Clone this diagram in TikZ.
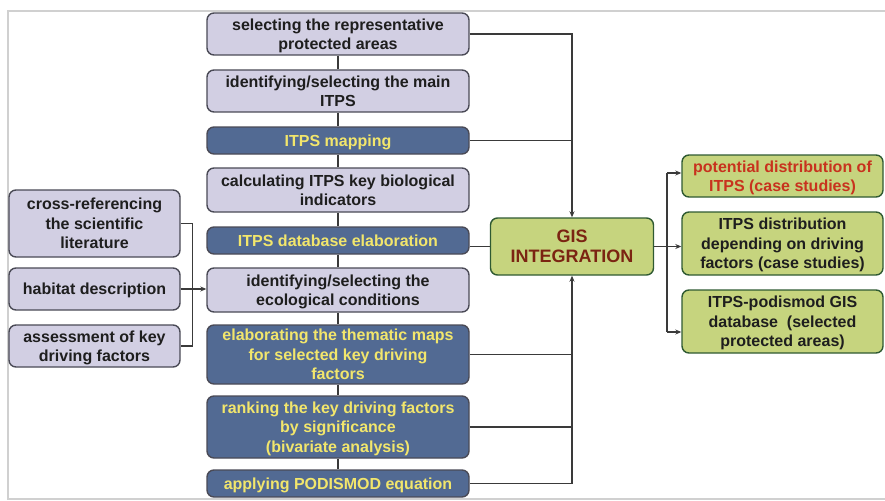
\documentclass[tikz,border=0pt]{standalone}
\usepackage{fontspec}
\setmainfont{Liberation Sans}
\usetikzlibrary{arrows.meta}

\definecolor{lavfill}{HTML}{D2CFE3}
\definecolor{boxline}{HTML}{4A4A56}
\definecolor{darkfill}{HTML}{526A93}
\definecolor{yellowtxt}{HTML}{F2E66C}
\definecolor{greenfill}{HTML}{C6D47E}
\definecolor{greenline}{HTML}{2F5A32}
\definecolor{gistxt}{HTML}{7B2412}
\definecolor{redtxt}{HTML}{C8321E}
\definecolor{linkcol}{HTML}{3A3A3A}
\definecolor{framecol}{HTML}{D0D0D0}
\definecolor{bodytxt}{HTML}{1E1E1E}

\begin{document}
\begin{tikzpicture}[x=1pt,y=-1pt,
  box/.style={draw=boxline, line width=1.4pt, rounded corners=7pt, align=center,
              font=\fontsize{16}{19.5}\selectfont\bfseries, inner sep=2pt, text depth=-1pt},
  lav/.style={box, fill=lavfill, text=bodytxt},
  dark/.style={box, fill=darkfill, text=yellowtxt},
  grn/.style={box, draw=greenline, fill=greenfill, text=bodytxt},
  link/.style={draw=linkcol, line width=1.2pt},
  arr/.style={link, -{Stealth[length=6pt,width=5pt]}}]

\useasboundingbox (0,0) rectangle (885,500);

% outer frame (open on the right)
\draw[framecol, line width=2.5pt] (895,11) -- (8,11) -- (8,499) -- (895,499);

% main workflow column
\node[lav,  minimum width=262pt, minimum height=42pt] (n1) at (338,34)    {selecting the representative\\protected areas};
\node[lav,  minimum width=262pt, minimum height=42pt] (n2) at (338,91)    {identifying/selecting the main\\ITPS};
\node[dark, minimum width=262pt, minimum height=27pt] (n3) at (338,140.5) {ITPS mapping};
\node[lav,  minimum width=262pt, minimum height=44pt] (n4) at (338,190)   {calculating ITPS key biological\\indicators};
\node[dark, minimum width=262pt, minimum height=27pt] (n5) at (338,240.5) {ITPS database elaboration};
\node[lav,  minimum width=262pt, minimum height=44pt] (n6) at (338,290)   {identifying/selecting the\\ecological conditions};
\node[dark, minimum width=262pt, minimum height=59pt] (n7) at (338,354.5) {elaborating the thematic maps\\for selected key driving\\factors};
\node[dark, minimum width=262pt, minimum height=62pt] (n8) at (338,427)   {ranking the key driving factors\\by significance\\(bivariate analysis)};
\node[dark, minimum width=262pt, minimum height=27pt] (n9) at (338,483.5) {applying PODISMOD equation};

% input sources
\node[lav, minimum width=171pt, minimum height=67pt] (L1) at (94.5,223.5) {cross-referencing\\the scientific\\literature};
\node[lav, minimum width=171pt, minimum height=42pt] (L2) at (94.5,289)   {habitat description};
\node[lav, minimum width=171pt, minimum height=42pt] (L3) at (94.5,346)   {assessment of key\\driving factors};

% integration hub
\node[grn, minimum width=163pt, minimum height=57pt, text=gistxt, text depth=0pt,
      font=\fontsize{18}{20}\selectfont\bfseries] (gis) at (572,246.5) {GIS\\INTEGRATION};

% outputs
\node[grn, minimum width=201pt, minimum height=42pt, text=redtxt] (r1) at (782.5,176)   {potential distribution of\\ITPS (case studies)};
\node[grn, minimum width=201pt, minimum height=63pt] (r2) at (782.5,243.5) {ITPS distribution\\depending on driving\\factors (case studies)};
\node[grn, minimum width=201pt, minimum height=63pt] (r3) at (782.5,321.5) {ITPS-podismod GIS\\database\ \ (selected\\protected areas)};

% links along the column
\foreach \a/\b in {n1/n2,n2/n3,n3/n4,n4/n5,n5/n6,n6/n7,n7/n8,n8/n9}
  \draw[link] (\a) -- (\b);

% inputs into the ecological conditions step
\draw[link] (L1.east) -- ++(12,0) |- (L3.east);
\draw[arr] (L2.east) -- (L2.east -| n6.west);

% feeds into GIS integration from above
\draw[arr] (n1.east) -- (n1.east -| gis.north) -- (gis.north);
\draw[link] (n3.east) -- (n3.east -| gis.north);
\draw[link] (gis.west -| n5.east) -- (gis.west);

% feeds into GIS integration from below
\draw[arr] (n9.east) -- (n9.east -| gis.south) -- (gis.south);
\draw[link] (n7.east) -- (n7.east -| gis.south);
\draw[link] (n8.east) -- (n8.east -| gis.south);

% outputs of GIS integration
\coordinate (split) at (667,246.5);
\coordinate (t1) at (667,173);
\coordinate (t3) at (667,332);
\draw[link] (gis.east) -- (split);
\draw[link] (t1) -- (t3);
\draw[arr] (t1) -- (t1 -| r1.west);
\draw[arr] (split) -- (split -| r2.west);
\draw[arr] (t3) -- (t3 -| r3.west);
\end{tikzpicture}
\end{document}
